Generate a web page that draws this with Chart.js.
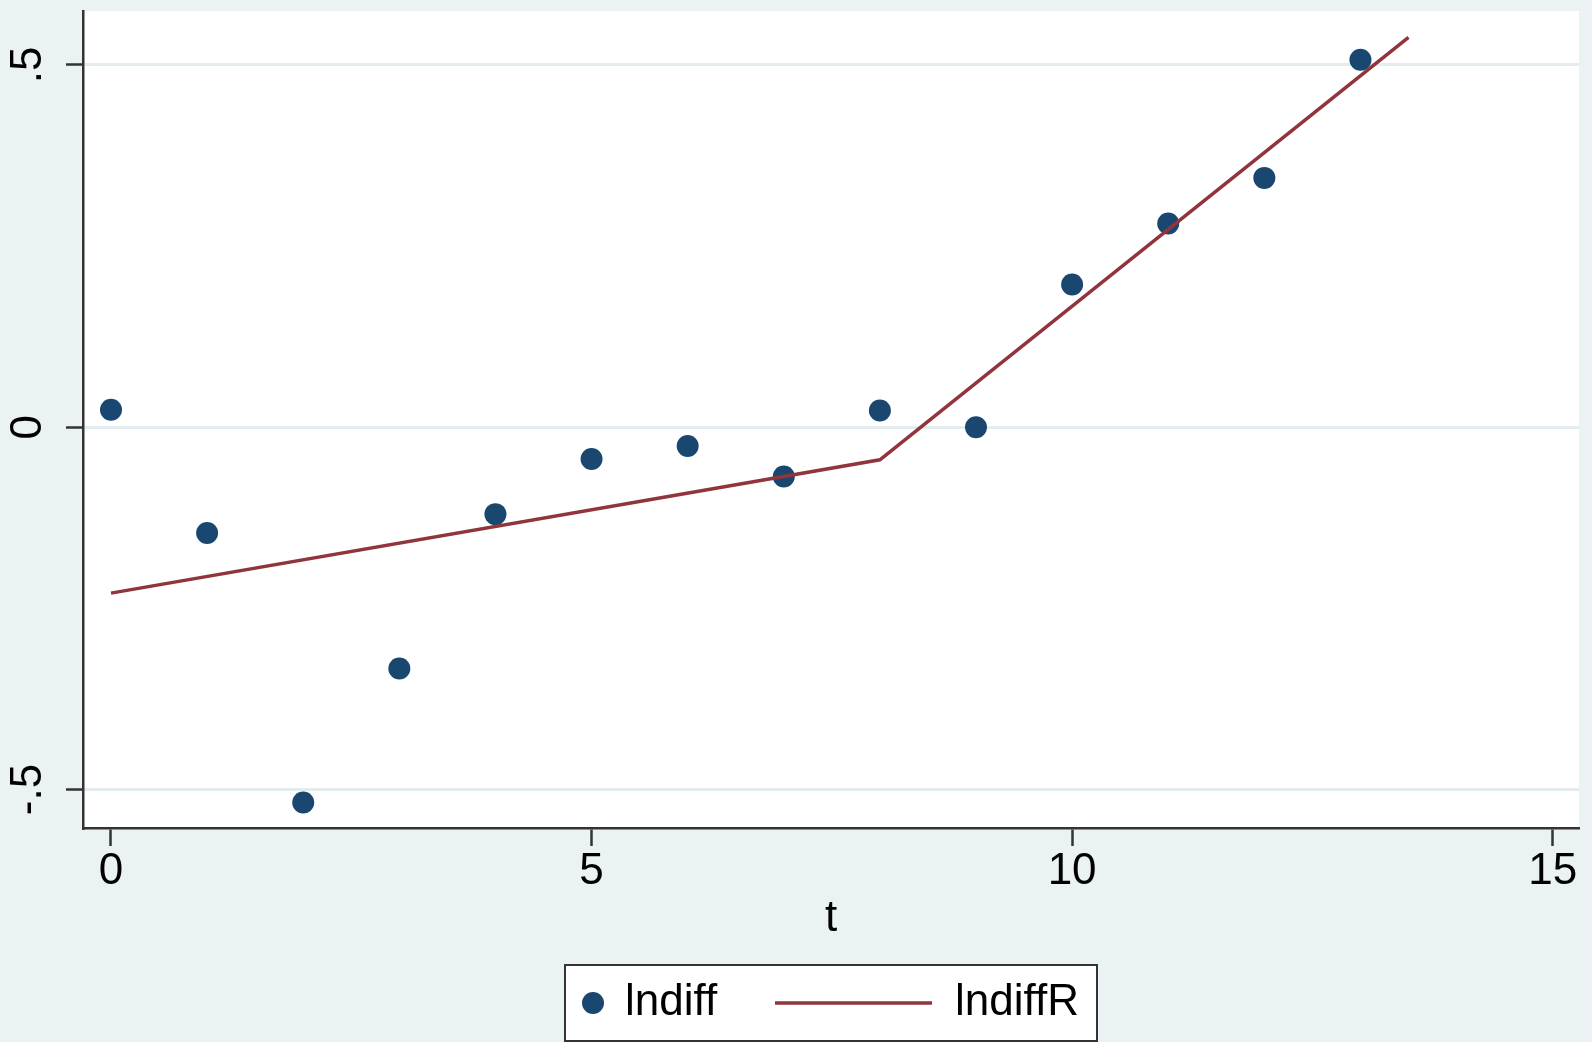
<!DOCTYPE html>
<html>
<head>
<meta charset="utf-8">
<title>lndiff vs t</title>
<script src="https://cdn.jsdelivr.net/npm/chart.js@4/dist/chart.umd.min.js"></script>
<style>
  html, body { margin: 0; padding: 0; background: #EAF2F3; }
  #wrap { width: 1592px; height: 1042px; position: relative; }
  canvas { display: block; }
</style>
</head>
<body>
<div id="wrap"><canvas id="chart" width="1592" height="1042"></canvas></div>
<script>
// Observed values
const tValues = [0, 1, 2, 3, 4, 5, 6, 7, 8, 9, 10, 11, 12, 13];
const indiff = [0.024, -0.146, -0.518, -0.333, -0.120, -0.044, -0.026, -0.068, 0.023, 0.000, 0.197, 0.281, 0.344, 0.507];

// Piecewise fitted line (knot at t = 8)
const tFit = [0, 8, 13.5];
const indiffR = [-0.229, -0.045, 0.538];

// Axis ticks and their labels
const xTickValues = [0, 5, 10, 15];
const xTickLabels = ['0', '5', '10', '15'];
const yTickValues = [-0.5, 0, 0.5];
const yTickLabels = ['-.5', '0', '.5'];

const FONT = "'Liberation Sans', Arial, Helvetica, sans-serif";
const NAVY = '#1A476F';
const MAROON = '#90353B';
const AXIS = '#333333';
const GRID = '#E3ECEF';

const scatterPts = tValues.map((t, i) => ({ x: t, y: indiff[i] }));
const fitPts = tFit.map((t, i) => ({ x: t, y: indiffR[i] }));

// White plot region behind the data
const plotBackground = {
  id: 'plotBackground',
  beforeDraw(chart) {
    const { ctx, chartArea: a } = chart;
    ctx.save();
    ctx.fillStyle = '#FFFFFF';
    ctx.fillRect(a.left, a.top, a.right - a.left, a.bottom - a.top);
    ctx.restore();
  }
};

// Boxed legend centred under the plot
const boxedLegend = {
  id: 'boxedLegend',
  afterDraw(chart) {
    const { ctx } = chart;
    const ds = chart.data.datasets;
    const box = { left: 565, top: 965, right: 1097, bottom: 1041 };
    const cy = (box.top + box.bottom) / 2;
    ctx.save();
    ctx.fillStyle = '#FFFFFF';
    ctx.fillRect(box.left, box.top, box.right - box.left, box.bottom - box.top);
    ctx.strokeStyle = AXIS;
    ctx.lineWidth = 2;
    ctx.strokeRect(box.left, box.top, box.right - box.left, box.bottom - box.top);

    // marker entry
    ctx.fillStyle = ds[0].backgroundColor;
    ctx.beginPath();
    ctx.arc(593, cy, 11, 0, Math.PI * 2);
    ctx.fill();

    ctx.font = '44px ' + FONT;
    ctx.fillStyle = '#000000';
    ctx.textBaseline = 'middle';
    ctx.textAlign = 'left';
    ctx.fillText(ds[0].label, 625, cy);

    // line entry
    ctx.strokeStyle = ds[1].borderColor;
    ctx.lineWidth = ds[1].borderWidth;
    ctx.beginPath();
    ctx.moveTo(775, cy);
    ctx.lineTo(932, cy);
    ctx.stroke();

    ctx.fillText(ds[1].label, 955, cy);
    ctx.restore();
  }
};

new Chart(document.getElementById('chart'), {
  type: 'scatter',
  data: {
    datasets: [
      {
        label: 'lndiff',
        data: scatterPts,
        backgroundColor: NAVY,
        borderColor: NAVY,
        pointRadius: 11,
        pointHoverRadius: 11,
        borderWidth: 0,
        showLine: false,
        order: 2
      },
      {
        label: 'lndiffR',
        data: fitPts,
        borderColor: MAROON,
        backgroundColor: MAROON,
        borderWidth: 3.5,
        pointRadius: 0,
        showLine: true,
        fill: false,
        tension: 0,
        order: 1
      }
    ]
  },
  options: {
    responsive: false,
    animation: false,
    devicePixelRatio: 1,
    layout: { padding: { top: 8, right: 13, left: 0, bottom: 0 } },
    plugins: {
      legend: { display: false },
      tooltip: { enabled: false }
    },
    scales: {
      x: {
        type: 'linear',
        position: 'bottom',
        min: -0.2913,
        max: 15.274,
        afterBuildTicks(scale) {
          scale.ticks = xTickValues.map(v => ({ value: v }));
        },
        afterFit(scale) {
          scale.height = 214;
          scale.paddingLeft = 0;
          scale.paddingRight = 0;
        },
        ticks: {
          autoSkip: false,
          maxRotation: 0,
          minRotation: 0,
          padding: -1,
          color: '#000000',
          font: { family: FONT, size: 44 },
          callback: (v) => xTickLabels[xTickValues.indexOf(v)]
        },
        grid: {
          drawOnChartArea: false,
          drawTicks: true,
          tickLength: 18,
          tickColor: AXIS,
          tickWidth: 2.5
        },
        border: { display: true, color: AXIS, width: 2.5 },
        title: {
          display: true,
          text: 't',
          color: '#000000',
          font: { family: FONT, size: 44, lineHeight: 1.2 },
          padding: { top: 0, bottom: 97 }
        }
      },
      y: {
        type: 'linear',
        position: 'left',
        min: -0.5531,
        max: 0.5743,
        afterBuildTicks(scale) {
          scale.ticks = yTickValues.map(v => ({ value: v }));
        },
        afterFit(scale) {
          scale.width = 83;
          scale.paddingTop = 0;
          scale.paddingBottom = 0;
        },
        ticks: {
          autoSkip: false,
          minRotation: 90,
          maxRotation: 90,
          crossAlign: 'center',
          padding: 11,
          color: '#000000',
          font: { family: FONT, size: 44 },
          callback: (v) => yTickLabels[yTickValues.indexOf(v)]
        },
        grid: {
          drawOnChartArea: true,
          color: GRID,
          lineWidth: 3,
          drawTicks: true,
          tickLength: 17,
          tickColor: AXIS,
          tickWidth: 2.5
        },
        border: { display: true, color: AXIS, width: 2.5 }
      }
    }
  },
  plugins: [plotBackground, boxedLegend]
});
</script>
</body>
</html>
